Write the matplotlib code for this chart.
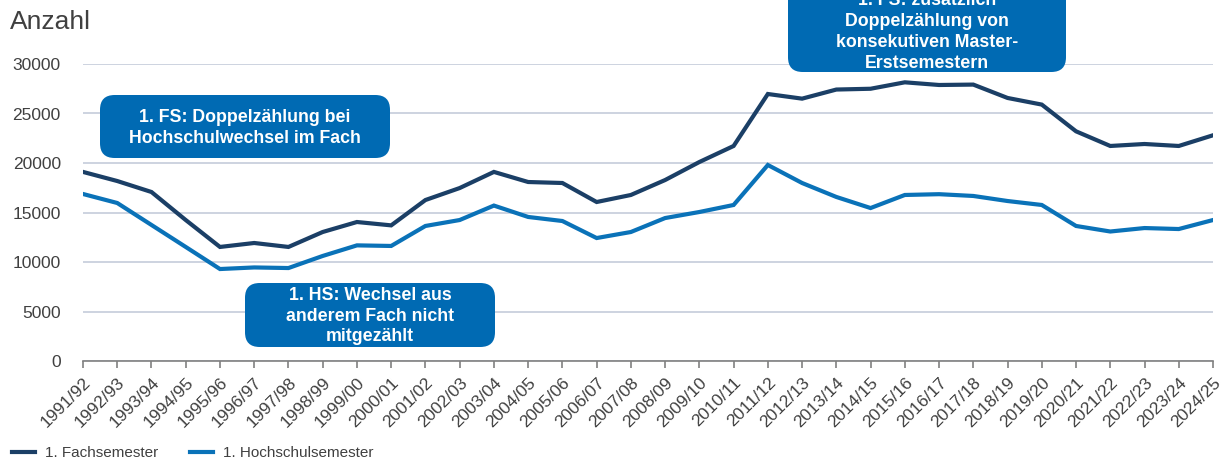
import matplotlib
matplotlib.use("Agg")
import matplotlib.pyplot as plt
from matplotlib.patches import FancyBboxPatch
from matplotlib.lines import Line2D

plt.rcParams['font.family'] = ['Liberation Sans', 'DejaVu Sans']

semesters = ["1991/92", "1992/93", "1993/94", "1994/95", "1995/96", "1996/97", "1997/98",
             "1998/99", "1999/00", "2000/01", "2001/02", "2002/03", "2003/04", "2004/05",
             "2005/06", "2006/07", "2007/08", "2008/09", "2009/10", "2010/11", "2011/12",
             "2012/13", "2013/14", "2014/15", "2015/16", "2016/17", "2017/18", "2018/19",
             "2019/20", "2020/21", "2021/22", "2022/23", "2023/24", "2024/25"]

fachsemester = [19100, 18180, 17070, 14240, 11520, 11920, 11520, 13030, 14040, 13700,
                16260, 17470, 19100, 18080, 17980, 16060, 16770, 18280, 20100, 21720,
                26970, 26500, 27420, 27500, 28150, 27880, 27920, 26570, 25900, 23200,
                21720, 21920, 21720, 22800]

hochschulsemester = [16870, 15960, 13740, 11520, 9290, 9450, 9390, 10610, 11680, 11620,
                     13640, 14240, 15700, 14550, 14140, 12420, 13030, 14440, 15050, 15760,
                     19800, 17980, 16570, 15450, 16770, 16850, 16670, 16160, 15760, 13640,
                     13080, 13430, 13330, 14240]

series_names = ["1. Fachsemester", "1. Hochschulsemester"]
colors = ["#1B3F66", "#0A72B8"]

box_texts = [
    "1. FS: Doppelzählung bei\nHochschulwechsel im Fach",
    "1. HS: Wechsel aus\nanderem Fach nicht\nmitgezählt",
    "1. FS: zusätzlich\nDoppelzählung von\nkonsekutiven Master-\nErstsemestern",
]

W, H = 1225, 461
fig = plt.figure(figsize=(W / 100, H / 100), dpi=100)
ax = fig.add_axes([83 / W, 1 - 361 / H, (1213 - 83) / W, (361 - 64) / H])

x = list(range(len(semesters)))
ax.plot(x, fachsemester, color=colors[0], lw=3.0, solid_joinstyle='miter', zorder=3)
ax.plot(x, hochschulsemester, color=colors[1], lw=3.0, solid_joinstyle='miter', zorder=3)

ax.set_xlim(0, len(semesters) - 1)
ax.set_ylim(0, 30000)
ax.set_yticks(range(0, 30001, 5000))
ax.yaxis.grid(True, color="#C5CCDA", lw=1.2)
ax.set_axisbelow(True)
for s in ["top", "right", "left"]:
    ax.spines[s].set_visible(False)
ax.spines["bottom"].set_color("#808080")
ax.spines["bottom"].set_linewidth(1.2)
ax.tick_params(axis='y', length=0, labelsize=12.5, labelcolor="#404040", pad=16)
ax.set_xticks(x)
ax.set_xticklabels(semesters, rotation=45, ha='right', rotation_mode='anchor',
                   fontsize=12.5, color="#404040")
ax.tick_params(axis='x', length=5, color="#808080", width=1.2, pad=5)

fig.text(10 / W, 1 - 22 / H, "Anzahl", fontsize=19, color="#404040", va='center', ha='left')

# annotation boxes (pixel positions: left, top, right, bottom, text centre y)
boxes = [(100, 95, 390, 158, 128), (245, 283, 495, 347, 316), (788, -25, 1066, 72, 32)]
box_color = "#006AB3"
for (l, t, r, b, cy), txt in zip(boxes, box_texts):
    p = FancyBboxPatch((l / W, 1 - b / H), (r - l) / W, (b - t) / H,
                       boxstyle="round,pad=0,rounding_size=0.012",
                       transform=fig.transFigure, facecolor=box_color,
                       edgecolor='none', zorder=5, mutation_aspect=W / H)
    fig.patches.append(p)
    fig.text((l + r) / 2 / W, 1 - cy / H, txt, ha='center', va='center',
             color='white', fontsize=12.8, fontweight='bold', linespacing=1.3, zorder=6)

handles = [Line2D([], [], color=c, lw=3) for c in colors]
fig.legend(handles, series_names, loc='center left', bbox_to_anchor=(6 / W, 1 - 453 / H),
           ncol=2, frameon=False, fontsize=11, labelcolor="#404040",
           handlelength=1.5, handletextpad=0.65, columnspacing=2.1, borderaxespad=0)

fig.savefig("out.png", dpi=100)
